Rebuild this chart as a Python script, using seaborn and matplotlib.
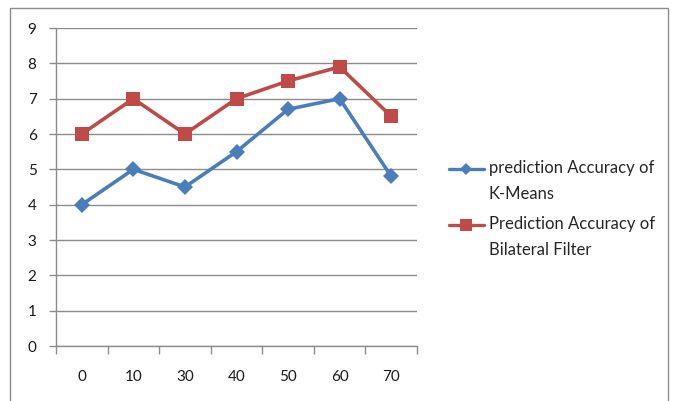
import matplotlib
matplotlib.use("Agg")
import matplotlib.pyplot as plt
import matplotlib.patches as mpatches
import numpy as np
import pandas as pd
import seaborn as sns

categories = ["0", "10", "30", "40", "50", "60", "70"]
kmeans_acc = [4.0, 5.0, 4.5, 5.5, 6.7, 7.0, 4.8]
bilateral_acc = [6.0, 7.0, 6.0, 7.0, 7.5, 7.9, 6.5]
series_names = ["prediction Accuracy of\nK-Means", "Prediction Accuracy of\nBilateral Filter"]
y_ticks = list(range(0, 10))

BLUE = "#4A7EBB"
RED = "#BE4B48"
GRID = "#8C8C8C"

sns.set_theme(style="white")
plt.rcParams["font.family"] = ["Lato", "DejaVu Sans"]

df = pd.DataFrame({
    "cat": categories * 2,
    "value": kmeans_acc + bilateral_acc,
    "series": [series_names[0]] * len(categories) + [series_names[1]] * len(categories),
})

fig = plt.figure(figsize=(6.76, 4.01), dpi=100)
ax = fig.add_axes([56 / 676, 1 - 346 / 401, (417 - 56) / 676, (346 - 28) / 401])

# outer chart frame
fig.patches.append(mpatches.Rectangle((10 / 676, -0.05), (668 - 10) / 676, 1 - 8 / 401 + 0.05,
                                      transform=fig.transFigure, fill=False,
                                      edgecolor=GRID, linewidth=1.0, zorder=0))

sns.lineplot(data=df, x="cat", y="value", hue="series", style="series",
             palette=[BLUE, RED], markers={series_names[0]: "D", series_names[1]: "s"},
             dashes=False, linewidth=2.6, markeredgewidth=0,
             sort=False, ax=ax, zorder=3)
marker_sizes = {"D": 8, "s": 10.5}
for line in ax.lines:
    m = line.get_marker()
    if m in marker_sizes:
        line.set_markersize(marker_sizes[m])

ax.set_xlim(-0.5, len(categories) - 0.5)
ax.set_ylim(0, 9)
ax.set_yticks(y_ticks)
ax.set_xticks(range(len(categories)))
ax.set_xticklabels(categories)
ax.set_xticks(np.arange(-0.5, len(categories), 1.0), minor=True)
ax.set_xlabel("")
ax.set_ylabel("")

ax.grid(axis="y", color=GRID, linewidth=1.0)
ax.set_axisbelow(True)
for side in ["top", "right"]:
    ax.spines[side].set_visible(False)
for side in ["left", "bottom"]:
    ax.spines[side].set_color(GRID)
    ax.spines[side].set_linewidth(1.0)

ax.tick_params(axis="y", which="major", left=True, length=5, width=1, color=GRID,
               labelsize=11, pad=9, labelcolor="#1a1a1a")
ax.tick_params(axis="x", which="major", bottom=False, labelsize=11, pad=11, labelcolor="#1a1a1a")
ax.tick_params(axis="x", which="minor", bottom=True, length=6, width=1, color=GRID)

handles, labels = ax.get_legend_handles_labels()
leg = ax.legend(handles, labels, loc="center left", bbox_to_anchor=(434 / 676, 1 - 209 / 401),
                bbox_transform=fig.transFigure, frameon=False, fontsize=12,
                handlelength=2.1, labelspacing=0.85, handletextpad=0.3)
for t in leg.get_texts():
    t.set_linespacing(1.75)
# legend keys sit beside the first line of each two-line label
for h, m in zip(leg.legend_handles, ["D", "s"]):
    h.set_markersize(6 if m == "D" else 8.5)
    h.set_linewidth(2.4)
    h.set_ydata(np.asarray(h.get_ydata(), dtype=float) + 9)

fig.savefig("out.png", dpi=100)
